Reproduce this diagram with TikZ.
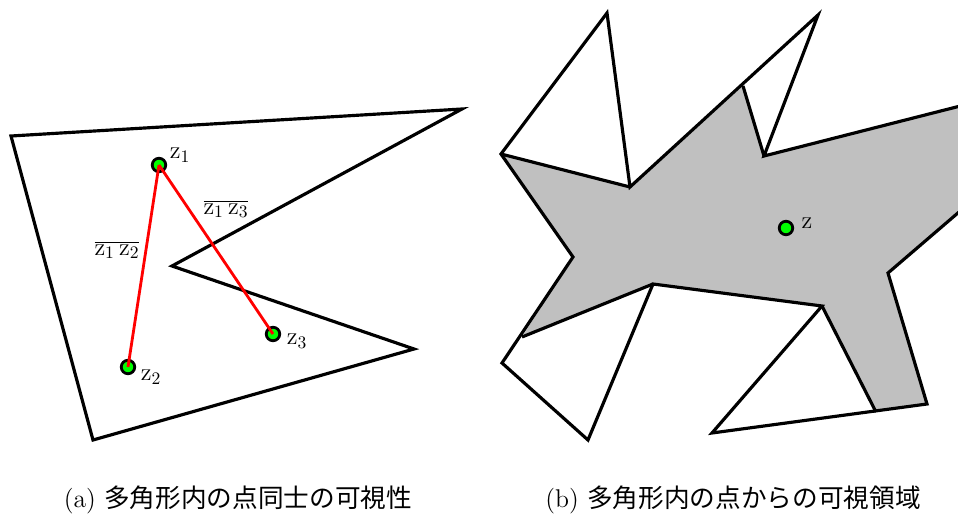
\documentclass[tikz,border=0pt]{standalone}
\usepackage{fontspec}
\newfontfamily\jpfont{Noto Sans CJK JP}
\definecolor{visgray}{RGB}{192,192,192}

\begin{document}
\begin{tikzpicture}[
    x=0.02cm, y=-0.02cm,
    font=\fontsize{14}{16}\selectfont,
    poly/.style={draw, line width=1.8pt, line join=miter},
    pt/.style={circle, draw, line width=1.6pt, fill=green, inner sep=0pt, minimum size=0.27cm},
    seg/.style={red, line width=1.6pt},
    captext/.style={font=\fontsize{14.6}{17}\selectfont}
]
\useasboundingbox (0,0) rectangle (958,517);
\clip (0,0) rectangle (958,517);

% (a) polygon with three points
\draw[poly] (11,136) -- (462,109) -- (172,266) -- (414,349) -- (93,440) -- cycle;
\node[pt] (z1) at (159,165) {};
\node[pt] (z2) at (128,367) {};
\node[pt] (z3) at (273,334) {};
\draw[seg] (z1.center) -- (z2.center);
\draw[seg] (z1.center) -- (z3.center);
\node (z1lbl) at (180,155) {$\mathrm{z}_1$};
\node (z2lbl) at (151,377) {$\mathrm{z}_2$};
\node (z3lbl) at (297,341) {$\mathrm{z}_3$};
\node (s12) at (117,250) {$\overline{\mathrm{z}_1\,\mathrm{z}_2}$};
\node (s13) at (226,209) {$\overline{\mathrm{z}_1\,\mathrm{z}_3}$};

% (b) visibility region from z
\fill[visgray] (501,154) -- (630,187) -- (743,86) -- (764,156) -- (980,101) -- (980,194)
    -- (888,273) -- (927,404) -- (876,412) -- (822,306) -- (653,284) -- (522,337)
    -- (573,257) -- cycle;
\draw[poly] (501,154) -- (607,13) -- (630,187) -- (818,15) -- (764,156) -- (980,101)
    -- (980,194) -- (888,273) -- (927,404) -- (712,433) -- (822,306) -- (653,284)
    -- (588,440) -- (502,363) -- (573,257) -- cycle;
\draw[poly] (501,154) -- (630,187);
\draw[poly] (743,86) -- (764,156);
\draw[poly] (822,306) -- (876,412);
\draw[poly] (653,284) -- (522,337);
\node[pt] (z) at (786,228) {};
\node (zlbl) at (807,223) {$\mathrm{z}$};

% captions
\node[captext] (capa) at (238,500) {(a) {\jpfont 多角形内の点同士の可視性}};
\node[captext] (capb) at (733,500) {(b) {\jpfont 多角形内の点からの可視領域}};
\end{tikzpicture}
\end{document}
